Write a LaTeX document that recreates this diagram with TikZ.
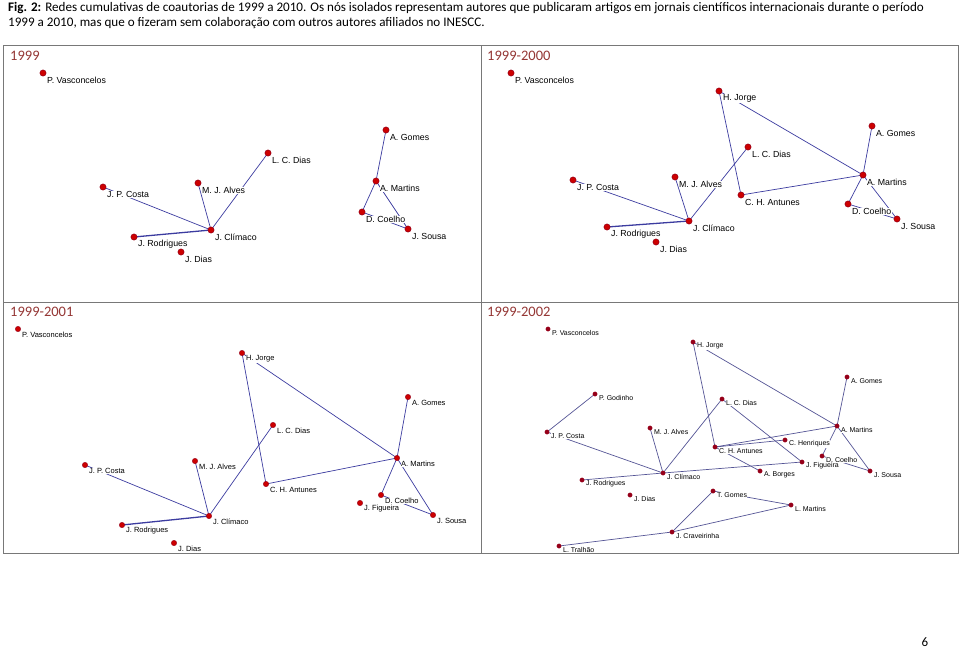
\documentclass[tikz,border=0pt]{standalone}
\usepackage{fontspec}
\setmainfont{Carlito}
\newfontfamily\labfont{Liberation Sans}
\usetikzlibrary{calc}
\pgfdeclarelayer{bg}
\pgfsetlayers{bg,main}
\definecolor{edgec}{RGB}{60,60,160}
\definecolor{edged}{RGB}{85,85,150}
\definecolor{dotr}{RGB}{205,0,0}
\definecolor{dotd}{RGB}{150,0,25}
\definecolor{titc}{RGB}{149,55,53}
\definecolor{framec}{RGB}{120,120,120}
\tikzset{
  edge/.style={draw=edgec, line width=0.7pt},
  dedge/.style={draw=edged, line width=0.7pt},
  thickedge/.style={draw=edgec, line width=1.3pt},
  labbase/.style={anchor=west, fill=white, inner sep=0.4pt, text=black},
  Alab/.style={labbase, font=\labfont\fontsize{8.8}{10}\selectfont, xshift=3.5pt, yshift=-7.5pt},
  Clab/.style={labbase, font=\labfont\fontsize{7.5}{9}\selectfont, xshift=3.5pt, yshift=-6pt},
  Dlab/.style={labbase, font=\labfont\fontsize{7}{8}\selectfont, xshift=3.5pt, yshift=-4pt},
  Adot/.style={circle, fill=dotr, draw=dotd, line width=0.5pt, minimum size=6.2pt, inner sep=0pt},
  Cdot/.style={circle, fill=dotr, draw=dotd, line width=0.4pt, minimum size=5.4pt, inner sep=0pt},
  Ddot/.style={circle, fill=dotd, draw=dotd, line width=0.3pt, minimum size=4.4pt, inner sep=0pt},
  ptitle/.style={anchor=west, inner sep=0pt, text=titc, font=\fontsize{14.5}{16}\selectfont},
}
\newcommand\gnode[5]{\node[#5lab] (#1l) at (#2,#3) {#4};\node[#5dot] (#1) at (#2,#3) {};}
\newcommand\edges[2][edge]{\begin{pgfonlayer}{bg}\foreach \a/\b in {#2}{\draw[#1] (\a.center) -- (\b.center);}\end{pgfonlayer}}
\newcommand\thickedges[1]{\begin{pgfonlayer}{bg}\foreach \a/\b in {#1}{\draw[thickedge] (\a.center) -- (\b.center);}\end{pgfonlayer}}
\begin{document}
\begin{tikzpicture}[x=1pt,y=-1pt]
\begin{pgfonlayer}{bg}
\fill[white] (0,0) rectangle (960,648);
\end{pgfonlayer}
\useasboundingbox (0,0) rectangle (960,648);
% caption
\node[anchor=base west, inner sep=0pt, font=\fontsize{13.1}{15}\selectfont] (cap1) at (8,11) {\textbf{Fig. 2:} Redes cumulativas de coautorias de 1999 a 2010. Os nós isolados representam autores que publicaram artigos em jornais científicos internacionais durante o período};
\node[anchor=base west, inner sep=0pt, font=\fontsize{13.1}{15}\selectfont] (cap2) at (8,26) {1999 a 2010, mas que o fizeram sem colaboração com outros autores afiliados no INESCC.};
% frame
\draw[framec, line width=1pt] (3,45) rectangle (958,553);
\draw[framec, line width=1pt] (481,45) -- (481,553);
\draw[framec, line width=1pt] (3,302) -- (958,302);
% titles
\node[ptitle] (t1) at (10,56) {1999};
\node[ptitle] (t2) at (487,56) {1999-2000};
\node[ptitle] (t3) at (10,312) {1999-2001};
\node[ptitle] (t4) at (487,312) {1999-2002};
% page number
\node[anchor=base, inner sep=0pt, font=\fontsize{13}{15}\selectfont] (pg) at (925,646) {6};

% ---------- panel 1: 1999
\gnode{aPV}{43}{73}{P. Vasconcelos}{A}
\gnode{aAG}{386}{130}{A. Gomes}{A}
\gnode{aLCD}{268}{153}{L. C. Dias}{A}
\gnode{aJPC}{103}{187}{J. P. Costa}{A}
\gnode{aMJA}{198}{183}{M. J. Alves}{A}
\gnode{aJC}{211}{230}{J. Clímaco}{A}
\gnode{aJR}{134}{237}{J. Rodrigues}{A}
\gnode{aJD}{181}{252}{J. Dias}{A}
\gnode{aAM}{376}{181}{A. Martins}{A}
\gnode{aDC}{362}{212}{D. Coelho}{A}
\gnode{aJS}{408}{229}{J. Sousa}{A}
\edges{aJPC/aJC, aMJA/aJC, aLCD/aJC, aAG/aAM, aAM/aDC, aAM/aJS, aDC/aJS}
\thickedges{aJR/aJC}

% ---------- panel 2: 1999-2000
\gnode{bPV}{511}{73}{P. Vasconcelos}{A}
\gnode{bHJ}{719}{91}{H. Jorge}{A}
\gnode{bAG}{872}{126}{A. Gomes}{A}
\gnode{bLCD}{748}{147}{L. C. Dias}{A}
\gnode{bJPC}{573}{180}{J. P. Costa}{A}
\gnode{bMJA}{675}{177}{M. J. Alves}{A}
\gnode{bCHA}{741}{195}{C. H. Antunes}{A}
\gnode{bAM}{863}{175}{A. Martins}{A}
\gnode{bDC}{848}{204}{D. Coelho}{A}
\gnode{bJS}{897}{219}{J. Sousa}{A}
\gnode{bJC}{689}{221}{J. Clímaco}{A}
\gnode{bJR}{607}{227}{J. Rodrigues}{A}
\gnode{bJD}{656}{242}{J. Dias}{A}
\edges{bHJ/bCHA, bHJ/bAM, bAG/bAM, bLCD/bJC, bMJA/bJC, bJPC/bJC, bCHA/bAM, bAM/bDC, bAM/bJS, bDC/bJS}
\thickedges{bJR/bJC}

% ---------- panel 3: 1999-2001
\gnode{cPV}{18}{329}{P. Vasconcelos}{C}
\gnode{cHJ}{242}{353}{H. Jorge}{C}
\gnode{cAG}{408}{397}{A. Gomes}{C}
\gnode{cLCD}{273}{425}{L. C. Dias}{C}
\gnode{cJPC}{85}{465}{J. P. Costa}{C}
\gnode{cMJA}{195}{461}{M. J. Alves}{C}
\gnode{cCHA}{266}{484}{C. H. Antunes}{C}
\gnode{cAM}{397}{458}{A. Martins}{C}
\gnode{cDC}{381}{495}{D. Coelho}{C}
\gnode{cJF}{360}{503}{J. Figueira}{C}
\gnode{cJS}{433}{515}{J. Sousa}{C}
\gnode{cJC}{209}{516}{J. Clímaco}{C}
\gnode{cJR}{122}{525}{J. Rodrigues}{C}
\gnode{cJD}{174}{543}{J. Dias}{C}
\edges{cHJ/cCHA, cHJ/cAM, cAG/cAM, cLCD/cJC, cMJA/cJC, cJPC/cJC, cCHA/cAM, cAM/cDC, cAM/cJS, cDC/cJS}
\thickedges{cJR/cJC}

% ---------- panel 4: 1999-2002
\gnode{dPV}{548}{329}{P. Vasconcelos}{D}
\gnode{dHJ}{693}{342}{H. Jorge}{D}
\gnode{dAG}{847}{377}{A. Gomes}{D}
\gnode{dPG}{595}{394}{P. Godinho}{D}
\gnode{dLCD}{722}{399}{L. C. Dias}{D}
\gnode{dAM}{837}{426}{A. Martins}{D}
\gnode{dJPC}{547}{432}{J. P. Costa}{D}
\gnode{dMJA}{650}{428}{M. J. Alves}{D}
\gnode{dCHE}{785}{440}{C. Henriques}{D}
\gnode{dCHA}{715}{447}{C. H. Antunes}{D}
\gnode{dDC}{822}{456}{D. Coelho}{D}
\gnode{dJF}{802}{462}{J. Figueira}{D}
\gnode{dAB}{760}{471}{A. Borges}{D}
\gnode{dJS}{870}{471}{J. Sousa}{D}
\gnode{dJC}{663}{473}{J. Clímaco}{D}
\gnode{dJR}{582}{480}{J. Rodrigues}{D}
\gnode{dJD}{630}{495}{J. Dias}{D}
\gnode{dTG}{713}{491}{T. Gomes}{D}
\gnode{dLM}{791}{505}{L. Martins}{D}
\gnode{dJCr}{672}{532}{J. Craveirinha}{D}
\gnode{dLT}{559}{546}{L. Tralhão}{D}
\edges[dedge]{dPG/dJPC, dJPC/dJC, dMJA/dJC, dLCD/dJC, dHJ/dCHA, dHJ/dAM, dAG/dAM, dLCD/dJF, dCHA/dAM, dCHA/dCHE, dCHA/dAB, dJR/dJC, dJC/dJF, dAM/dDC, dAM/dJS, dDC/dJS, dTG/dLM, dTG/dJCr, dJCr/dLM, dJCr/dLT}
\end{tikzpicture}
\end{document}
